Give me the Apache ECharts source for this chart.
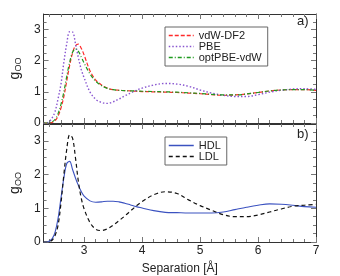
<!DOCTYPE html>
<html><head><meta charset="utf-8">
<script src="https://cdn.jsdelivr.net/npm/echarts@6/dist/echarts.min.js"></script>
<style>html,body{margin:0;padding:0;background:#fff}#c{width:340px;height:276px}</style>
</head><body><div id="c"></div>
<script>
// Separation (Å)
const separation = [2.3,2.35,2.4,2.45,2.5,2.55,2.6,2.65,2.7,2.75,2.8,2.85,2.9,2.95,3.0,3.1,3.2,3.3,3.4,3.5,3.6,3.7,3.8,3.9,4.0,4.2,4.4,4.6,4.8,5.0,5.2,5.4,5.6,5.8,6.0,6.2,6.4,6.6,6.8,7.0];
// Panel a
const vdwDF2   = [0,0,0,0.02,0.08,0.22,0.48,0.85,1.35,1.85,2.25,2.48,2.53,2.4,2.18,1.68,1.38,1.22,1.12,1.07,1.05,1.04,1.03,1.02,1.01,1.0,0.99,0.98,0.96,0.94,0.91,0.89,0.9,0.93,0.98,1.03,1.06,1.07,1.07,1.05];
const pbe      = [0,0,0.05,0.17,0.38,0.78,1.25,1.95,2.55,2.93,2.92,2.55,2.1,1.72,1.45,1.0,0.76,0.66,0.63,0.68,0.77,0.87,0.96,1.05,1.12,1.22,1.27,1.25,1.18,1.06,0.96,0.89,0.85,0.85,0.91,0.99,1.05,1.09,1.1,1.08];
const optPBEvdW= [0,0,0.01,0.04,0.12,0.3,0.6,1.0,1.5,1.95,2.27,2.38,2.3,2.12,1.92,1.58,1.34,1.2,1.11,1.07,1.05,1.04,1.03,1.03,1.02,1.01,1.0,0.99,0.97,0.95,0.92,0.9,0.9,0.93,0.98,1.03,1.06,1.07,1.07,1.05];
// Panel b
const hdl      = [0,0,0.03,0.1,0.3,0.7,1.3,1.9,2.33,2.39,2.15,1.9,1.68,1.5,1.36,1.22,1.18,1.19,1.21,1.21,1.19,1.15,1.1,1.05,1.01,0.93,0.88,0.87,0.86,0.86,0.86,0.89,0.96,1.03,1.09,1.13,1.12,1.09,1.05,1.03];
const ldl      = [0,0,0.01,0.06,0.2,0.5,1.15,2.0,2.75,3.18,3.08,2.5,1.8,1.3,0.98,0.58,0.38,0.34,0.39,0.5,0.63,0.77,0.92,1.07,1.2,1.4,1.49,1.44,1.25,1.08,0.94,0.81,0.75,0.75,0.8,0.89,0.98,1.06,1.09,1.12];
// Ticks
const xMajorTicks = [3,4,5,6,7];
const xMinorTicks = [2.4,2.6,2.8,3.2,3.4,3.6,3.8,4.2,4.4,4.6,4.8,5.2,5.4,5.6,5.8,6.2,6.4,6.6,6.8];
const yMajorTicks = [0,1,2,3];
const yMinorTicks = [0.25,0.5,0.75,1.25,1.5,1.75,2.25,2.5,2.75,3.25];
const xMin = 2.3, xMax = 7, yMin = 0, yMax = 3.5;

const FONT = 'Liberation Sans';
const AX = '#333', TK = '#777';

function xAxis(grid, position, ticks, len, showLine, labels, name) {
  return {
    type: 'value', gridIndex: grid, position: position, min: xMin, max: xMax,
    axisLine: {show: showLine, onZero: false, lineStyle: {color: AX, width: 1}},
    axisTick: {show: true, inside: true, length: len, customValues: ticks, lineStyle: {color: TK}},
    axisLabel: labels ? {show: true, customValues: labels, margin: 3, fontSize: 12, color: '#222', fontFamily: FONT} : {show: false},
    splitLine: {show: false},
    name: name || '', nameLocation: 'middle', nameGap: 21,
    nameTextStyle: {fontSize: 12, color: '#222', fontFamily: FONT}
  };
}
function yAxis(grid, position, ticks, len, showLine, labels, name) {
  return {
    type: 'value', gridIndex: grid, position: position, min: yMin, max: yMax,
    axisLine: {show: showLine, onZero: false, lineStyle: {color: AX, width: 1}},
    axisTick: {show: true, inside: true, length: len, customValues: ticks, lineStyle: {color: TK}},
    axisLabel: labels ? {show: true, customValues: labels, margin: 3, fontSize: 12, color: '#222', fontFamily: FONT} : {show: false},
    splitLine: {show: false},
    name: name || '', nameLocation: 'middle', nameGap: 12, nameRotate: 90,
    nameTextStyle: {fontFamily: FONT, color: '#222',
      rich: {g: {fontSize: 14, fontFamily: FONT, color: '#222'},
             s: {fontSize: 9, fontFamily: FONT, color: '#222', padding: [7, 0, 0, 0]}}}
  };
}
const yName = '{g|g}{s|OO}';

const xAxes = [], yAxes = [];
[0, 1].forEach(g => {
  xAxes.push(xAxis(g, 'bottom', xMajorTicks, 5, true, g === 1 ? xMajorTicks : null, g === 1 ? 'Separation [Å]' : ''));
  xAxes.push(xAxis(g, 'bottom', xMinorTicks, 3, false, null));
  xAxes.push(xAxis(g, 'top', xMajorTicks, 5, true, null));
  xAxes.push(xAxis(g, 'top', xMinorTicks, 3, false, null));
  yAxes.push(yAxis(g, 'left', yMajorTicks, 5, true, yMajorTicks, yName));
  yAxes.push(yAxis(g, 'left', yMinorTicks, 3, false, null));
  yAxes.push(yAxis(g, 'right', yMajorTicks, 5, true, null));
  yAxes.push(yAxis(g, 'right', yMinorTicks, 3, false, null));
});

const styles = {
  'vdW-DF2':    {color: '#ff2a2a', type: [4, 2], width: 1.2},
  'PBE':        {color: '#8855d0', type: [1.5, 2], width: 1.4},
  'optPBE-vdW': {color: '#1f9a1f', type: [4, 2, 1, 2], width: 1.2},
  'HDL':        {color: '#3b52c0', type: 'solid', width: 1.1},
  'LDL':        {color: '#111111', type: [4, 3], width: 1.2}
};

function pts(arr) { return separation.map((x, i) => [x, arr[i]]); }
function line(name, arr, grid) {
  const s = styles[name];
  return {
    name: name, type: 'line', xAxisIndex: grid * 4, yAxisIndex: grid * 4,
    data: pts(arr), smooth: 0.35, symbol: 'none', showSymbol: false,
    lineStyle: {color: s.color, width: s.width, type: s.type},
    itemStyle: {color: s.color}, animation: false
  };
}
function legendItem(name) {
  const s = styles[name];
  return {name: name, itemStyle: {opacity: 0}, lineStyle: {color: s.color, width: 1.5, type: s.type, opacity: 1}};
}

const legendBase = {
  orient: 'vertical', itemWidth: 25, itemHeight: 10, itemGap: 0,
  borderColor: '#666', borderWidth: 1, borderRadius: 0, padding: [3, 6, 3, 3],
  itemStyle: {opacity: 0},
  textStyle: {fontSize: 11, color: '#222', fontFamily: FONT, lineHeight: 10.5},
  backgroundColor: '#fff'
};

const chart = echarts.init(document.getElementById('c'), null, {renderer: 'canvas'});
chart.setOption({
  animation: false,
  backgroundColor: '#fff',
  grid: [
    {left: 41, top: 14, width: 275, height: 109},
    {left: 41, top: 124, width: 275, height: 118}
  ],
  xAxis: xAxes,
  yAxis: yAxes,
  legend: [
    Object.assign({}, legendBase, {left: 165, top: 27, data: ['vdW-DF2', 'PBE', 'optPBE-vdW'].map(legendItem)}),
    Object.assign({}, legendBase, {left: 165, top: 137, data: ['HDL', 'LDL'].map(legendItem)})
  ],
  graphic: [
    {type: 'text', left: 297, top: 15, style: {text: 'a)', fontSize: 13, fontFamily: FONT, fill: '#222'}},
    {type: 'text', left: 297, top: 128, style: {text: 'b)', fontSize: 13, fontFamily: FONT, fill: '#222'}}
  ],
  series: [
    line('vdW-DF2', vdwDF2, 0),
    line('PBE', pbe, 0),
    line('optPBE-vdW', optPBEvdW, 0),
    line('HDL', hdl, 1),
    line('LDL', ldl, 1)
  ]
});
</script></body></html>
